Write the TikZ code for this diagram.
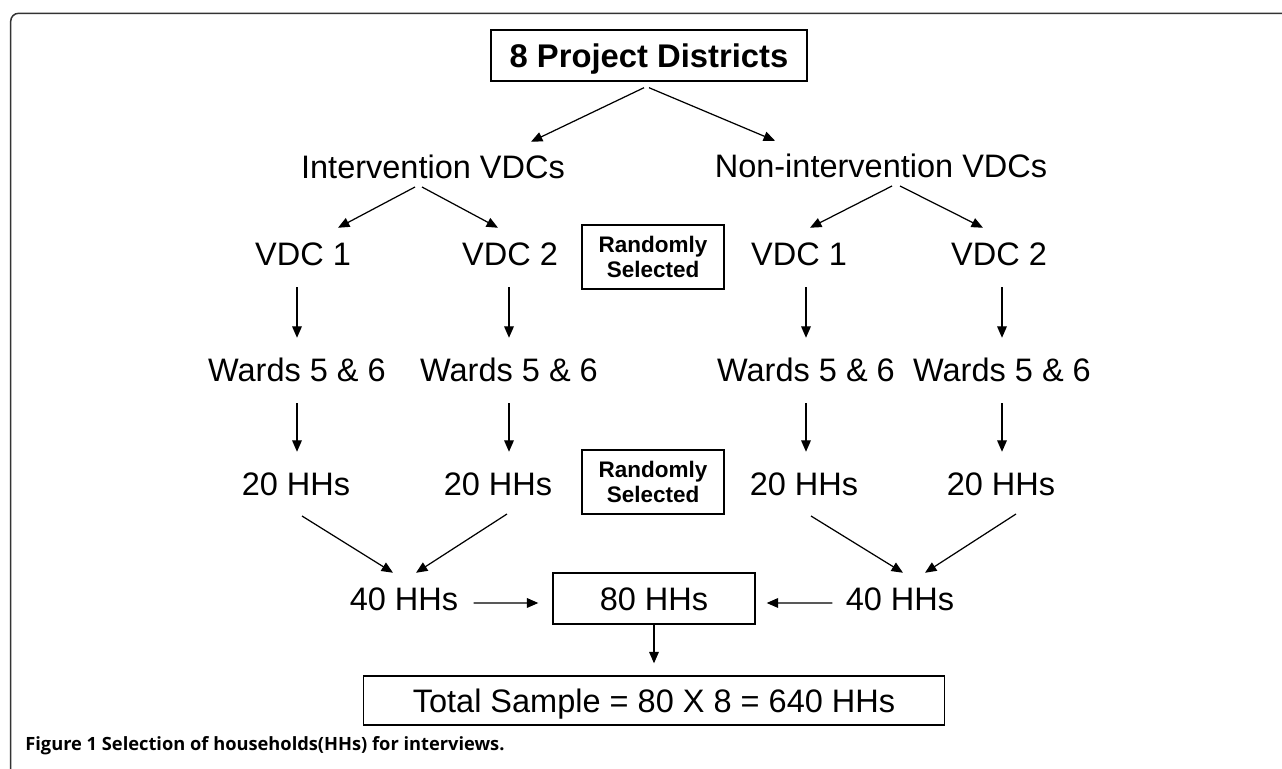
\documentclass[tikz,border=0pt]{standalone}
\usepackage{fontspec}
\setmainfont{Liberation Sans}
\newfontfamily\capfont{Open Sans}
\usetikzlibrary{calc,positioning,arrows.meta}

\begin{document}
\begin{tikzpicture}[x=0.02cm,y=-0.02cm,
    lbl/.style={inner sep=0pt, text height=13.4pt, text depth=0pt, anchor=south,
      font=\fontsize{18.5}{22}\selectfont},
    boxed/.style={draw, line width=0.8pt, inner sep=0pt, text height=13.4pt, text depth=0pt,
      font=\fontsize{18.5}{22}\selectfont},
    randbox/.style={draw, line width=0.8pt, align=center, inner sep=0pt,
      minimum width=2.84cm, minimum height=1.28cm,
      font=\bfseries\fontsize{12.8}{14.2}\selectfont},
    arr/.style={-{Triangle[length=6.5pt,width=5.5pt]}, line width=0.7pt}]
  \useasboundingbox (0,0) rectangle (1282,768);

  % Frame
  \draw[line width=0.85pt, rounded corners=4.5pt, black!80] (10.7,790) -- (10.7,13.3) -- (1300,13.3);

  % Boxes
  \node[boxed, minimum width=6.32cm, minimum height=1.02cm, font=\bfseries\fontsize{18.65}{22}\selectfont]
    (dist) at (649,55.5) {8 Project Districts};
  \node[boxed, minimum width=4.04cm, minimum height=1.02cm] (eighty) at (654,598.5) {80 HHs};
  \node[boxed, minimum width=11.62cm, minimum height=0.98cm] (total) at (654,700.5)
    {Total Sample = 80 X 8 = 640 HHs};
  \node[randbox] (rand1) at (653,257) {Randomly\\Selected};
  \node[randbox] (rand2) at (653,482) {Randomly\\Selected};

  % Labels
  \node[lbl] (int) at (433,179) {Intervention VDCs};
  \node[lbl] (non) at (881,178) {Non-intervention VDCs};
  \foreach \n/\x/\t in {v1/303/VDC 1, v2/510/VDC 2, v3/799/VDC 1, v4/999/VDC 2} {
    \node[lbl] (\n) at (\x,266) {\t};
  }
  \foreach \n/\x in {w1/297, w2/509, w3/806, w4/1002} {
    \node[lbl] (\n) at (\x,382) {Wards 5 \& 6};
  }
  \foreach \n/\x in {h1/296, h2/498, h3/804, h4/1001} {
    \node[lbl] (\n) at (\x,496) {20 HHs};
  }
  \node[lbl] (f1) at (404,611) {40 HHs};
  \node[lbl] (f2) at (900,611) {40 HHs};

  % Arrows from the top
  \draw[arr] ($(dist.south)+(-5,6)$) -- ($(int.north)+(98,-13)$);
  \draw[arr] ($(dist.south)+(0,6)$) -- ($(non.north)+(-106,-13)$);
  \draw[arr] ($(int.south)+(-18,8)$) -- ($(v1.north)+(35,-14)$);
  \draw[arr] ($(int.south)+(-11,8)$) -- ($(v2.north)+(-12,-14)$);
  \draw[arr] ($(non.south)+(11,8)$) -- ($(v3.north)+(11,-14)$);
  \draw[arr] ($(non.south)+(19,8)$) -- ($(v4.north)+(-16,-14)$);

  % Arrows down the columns
  \foreach \a/\b in {v1/w1, v2/w2, v3/w3, v4/w4} {
    \draw[arr] ($(\a.south -| \b)+(0,21)$) -- ($(\b.north)+(0,-20)$);
  }
  \foreach \a/\b in {w1/h1, w2/h2, w3/h3, w4/h4} {
    \draw[arr] ($(\a.south)+(0,21)$) -- ($(\a.south |- \b.north)+(0,-20)$);
  }

  % Arrows joining the columns
  \draw[arr] ($(h1.south)+(6,20)$) -- ($(f1.north)+(-11,-14)$);
  \draw[arr] ($(h2.south)+(9,18)$) -- ($(f1.north)+(12,-14)$);
  \draw[arr] ($(h3.south)+(7,20)$) -- ($(f2.north)+(3,-14)$);
  \draw[arr] ($(h4.south)+(15,18)$) -- ($(f2.north)+(25,-14)$);
  \draw[arr] ($(f1.east)+(15,4)$) -- ($(eighty.west)+(-14,4.5)$);
  \draw[arr] ($(f2.west)+(-13,4)$) -- ($(eighty.east)+(11,4.5)$);
  \draw[arr] (eighty.south) -- ($(eighty.south |- total.north)+(0,-12)$);

  % Caption
  \node[anchor=base west, inner sep=0pt, font=\capfont\bfseries\fontsize{10.4}{12}\selectfont]
    (cap) at (25,750) {Figure 1 Selection of households(HHs) for interviews.};
\end{tikzpicture}
\end{document}
